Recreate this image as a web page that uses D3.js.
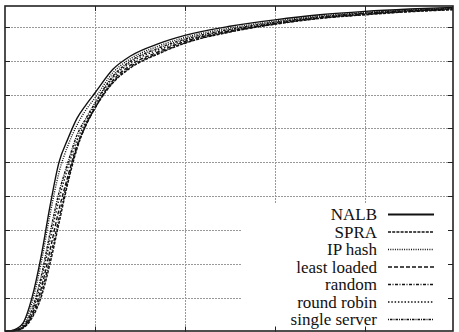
<!DOCTYPE html>
<html>
<head>
<meta charset="utf-8">
<script src="https://cdn.jsdelivr.net/npm/d3@7"></script>
<style>
  body { margin: 0; background: #fff; }
  svg { display: block; }
</style>
</head>
<body>
<div id="chart"></div>
<script>
// response time samples (x) and cumulative fraction for each balancer
const xs = [0, 0.1, 0.2, 0.3, 0.4, 0.5, 0.6, 0.7, 0.8, 0.9, 1.0, 1.2, 1.4, 1.7, 2.0, 2.5, 3.0, 3.5, 4.0, 4.5, 4.98]

const nalb         = [0, .005, .025, .100, .220, .370, .500, .570, .630, .670, .705, .775, .815, .850, .875, .902, .921, .936, .946, .953, .958]
const spra         = [0, .002, .010, .040, .100, .200, .320, .440, .540, .610, .660, .735, .780, .820, .852, .885, .908, .925, .936, .945, .951]
const ipHash       = [0, .004, .020, .085, .200, .345, .470, .550, .610, .655, .690, .765, .807, .843, .869, .897, .917, .933, .943, .951, .956]
const leastLoaded  = [0, .002, .012, .050, .125, .240, .360, .460, .550, .610, .660, .742, .788, .826, .857, .888, .910, .927, .938, .947, .953]
const randomLB     = [0, .002, .011, .045, .110, .215, .335, .450, .545, .612, .662, .737, .783, .822, .853, .886, .909, .926, .937, .946, .952]
const roundRobin   = [0, .003, .013, .058, .145, .270, .390, .485, .565, .620, .670, .750, .795, .832, .860, .890, .912, .929, .940, .948, .954]
const singleServer = [0, .003, .015, .065, .160, .290, .410, .500, .580, .630, .675, .755, .800, .837, .864, .893, .914, .930, .941, .949, .955]

const names = ["NALB", "SPRA", "IP hash", "least loaded", "random", "round robin", "single server"]
const values = [nalb, spra, ipHash, leastLoaded, randomLB, roundRobin, singleServer]

const xTicks = [1, 2, 3, 4]
const yTicks = [0.1, 0.2, 0.3, 0.4, 0.5, 0.6, 0.7, 0.8, 0.9]

const dashes = [null, "3,1.2", "1,1.3", "4,2", "3,1.5,1,1.5", "1.5,1.8", "1,1,2.5,1"]

const width = 459
const height = 332
const pLeft = 5, pRight = 453, pTop = 6, pBottom = 331.5

const x = d3.scaleLinear().domain([0, 4.98]).range([pLeft, pRight])
const y = d3.scaleLinear().domain([0, 0.962]).range([pBottom, pTop])

const svg = d3.select("#chart")
  .append("svg")
  .attr("width", width)
  .attr("height", height)

svg.append("defs").append("clipPath")
  .attr("id", "plot")
  .append("rect")
  .attr("x", pLeft).attr("y", pTop)
  .attr("width", pRight - pLeft).attr("height", pBottom - pTop)

// grid
const grid = svg.append("g")
  .attr("stroke", "#999")
  .attr("stroke-width", 1)
  .attr("stroke-dasharray", "2,1")

grid.selectAll("line.gx")
  .data(xTicks)
  .enter()
  .append("line")
  .attr("x1", d => Math.round(x(d)) + 0.5)
  .attr("x2", d => Math.round(x(d)) + 0.5)
  .attr("y1", pTop)
  .attr("y2", pBottom)

grid.selectAll("line.gy")
  .data(yTicks)
  .enter()
  .append("line")
  .attr("y1", d => Math.round(y(d)) + 0.5)
  .attr("y2", d => Math.round(y(d)) + 0.5)
  .attr("x1", pLeft)
  .attr("x2", pRight)

// curves
const line = d3.line()
  .x((d, i) => x(xs[i]))
  .y(d => y(d))
  .curve(d3.curveMonotoneX)

svg.append("g")
  .attr("clip-path", "url(#plot)")
  .selectAll("path")
  .data(values)
  .enter()
  .append("path")
  .attr("d", d => line(d))
  .attr("fill", "none")
  .attr("stroke", "#111")
  .attr("stroke-width", 1.4)
  .attr("stroke-dasharray", (d, i) => dashes[i])

// key with opaque background
const keyRight = 377
const keyTop = 220
const rowH = 17.5

svg.append("rect")
  .attr("x", 242)
  .attr("y", 204)
  .attr("width", pRight - 242)
  .attr("height", pBottom - 204)
  .attr("fill", "#fff")

const key = svg.append("g")
  .selectAll("g")
  .data(names)
  .enter()
  .append("g")
  .attr("transform", (d, i) => `translate(0,${keyTop + i * rowH})`)

key.append("text")
  .attr("x", keyRight)
  .attr("y", 0)
  .attr("text-anchor", "end")
  .attr("font-family", "'Liberation Serif', 'DejaVu Serif', serif")
  .attr("font-size", 17)
  .attr("fill", "#111")
  .text(d => d)

key.append("line")
  .attr("x1", 388)
  .attr("x2", 434)
  .attr("y1", -5.5)
  .attr("y2", -5.5)
  .attr("stroke", "#111")
  .attr("stroke-width", (d, i) => i === 0 ? 1.8 : 1.3)
  .attr("stroke-dasharray", (d, i) => dashes[i])

// ticks and border
const ticks = svg.append("g")
  .attr("stroke", "#222")
  .attr("stroke-width", 1)

yTicks.forEach(t => {
  const yy = Math.round(y(t)) + 0.5
  ticks.append("line").attr("x1", pLeft).attr("x2", pLeft + 5).attr("y1", yy).attr("y2", yy)
  ticks.append("line").attr("x1", pRight).attr("x2", pRight - 5).attr("y1", yy).attr("y2", yy)
})
xTicks.forEach(t => {
  const xx = Math.round(x(t)) + 0.5
  ticks.append("line").attr("x1", xx).attr("x2", xx).attr("y1", pTop).attr("y2", pTop + 5)
  ticks.append("line").attr("x1", xx).attr("x2", xx).attr("y1", pBottom).attr("y2", pBottom - 5)
})

svg.append("rect")
  .attr("x", pLeft)
  .attr("y", pTop)
  .attr("width", pRight - pLeft)
  .attr("height", pBottom - 0.5 - pTop)
  .attr("fill", "none")
  .attr("stroke", "#222")
  .attr("stroke-width", 1.6)
</script>
</body>
</html>
